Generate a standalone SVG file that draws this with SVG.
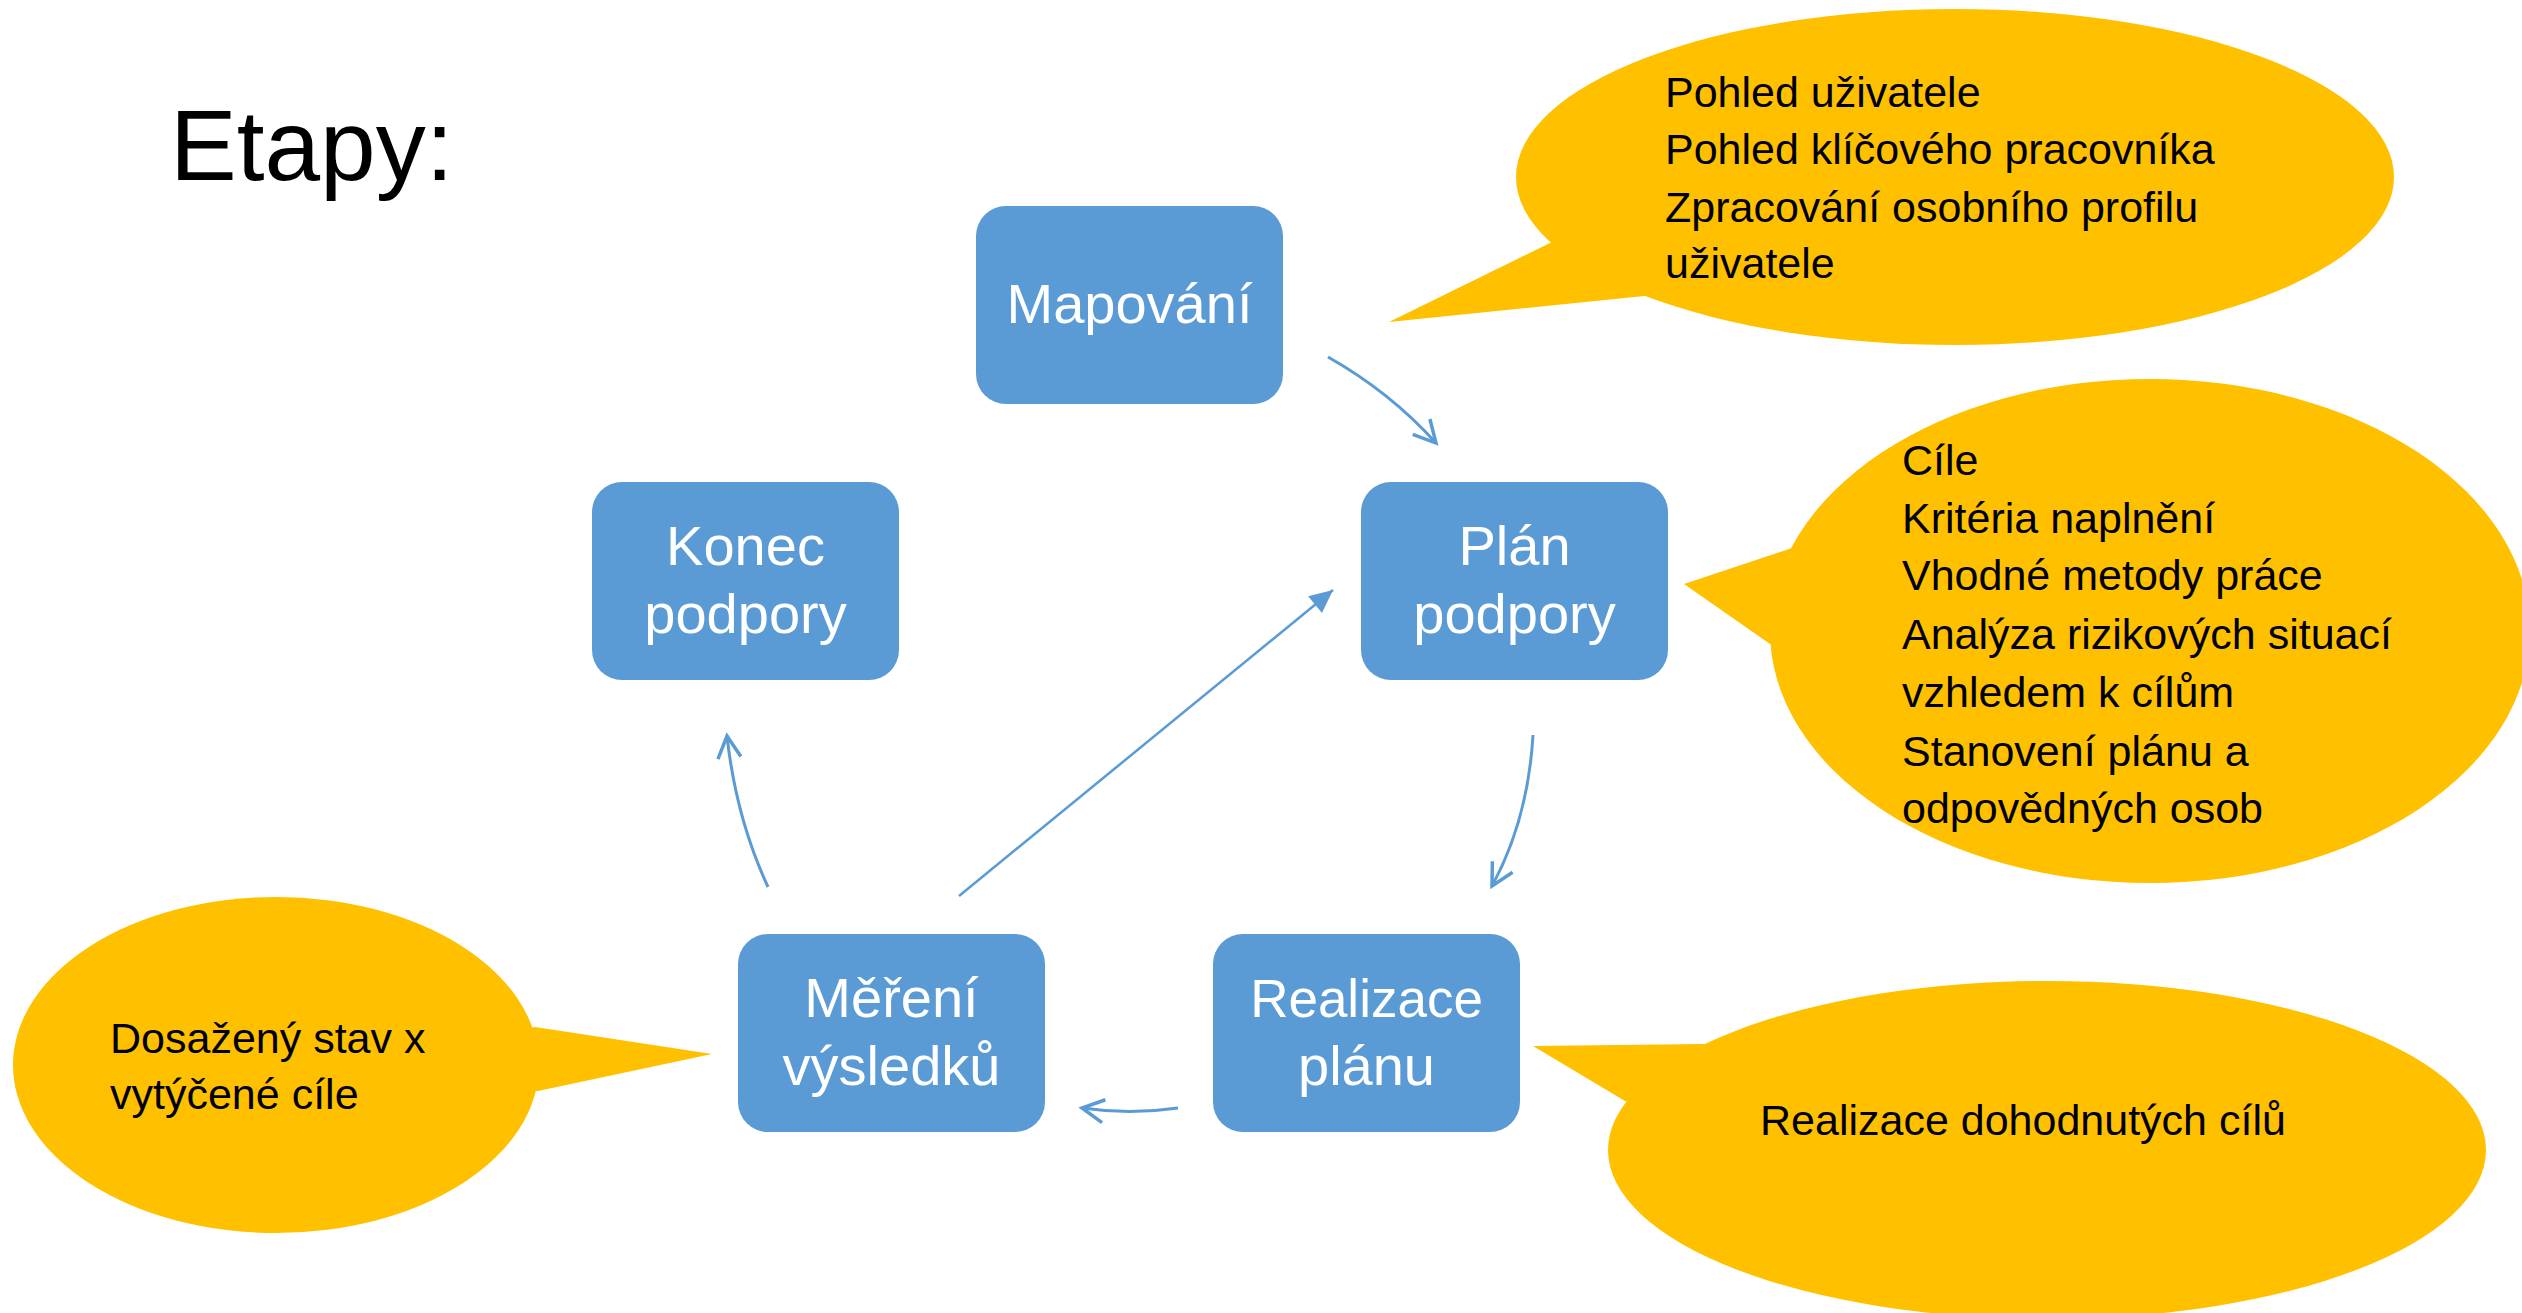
<svg xmlns="http://www.w3.org/2000/svg" width="2522" height="1313" viewBox="0 0 2522 1313">
<style>
.box{fill:#5B9BD5}
.bt{font-family:"Liberation Sans",Arial,sans-serif;font-size:56px;fill:#fff;text-anchor:middle}
.call{fill:#FFC000}
.ct{font-family:"Liberation Sans",Arial,sans-serif;font-size:43px;fill:#000}
.title{font-family:"Liberation Sans",Arial,sans-serif;font-size:100px;fill:#000}
.con{fill:none;stroke:#5B9BD5;stroke-width:3}
</style>
<defs>
<marker id="openArrow" markerUnits="userSpaceOnUse" markerWidth="30" markerHeight="30" viewBox="-22 -12 26 24" refX="0" refY="0" orient="auto">
<path d="M-19,-10 L0,0 L-19,10" fill="none" stroke="#5B9BD5" stroke-width="3"/>
</marker>
<marker id="fillArrow" markerUnits="userSpaceOnUse" markerWidth="30" markerHeight="30" viewBox="-20 -10 22 20" refX="0" refY="0" orient="auto">
<path d="M-17,-8 L0,0 L-17,8 Z" fill="#5B9BD5"/>
</marker>
</defs>
<rect width="2522" height="1313" fill="#fff"/>
<text class="title" x="170" y="180">Etapy:</text>

<g id="callout-mapovani">
<ellipse class="call" cx="1955" cy="177" rx="439" ry="168"/>
<polygon class="call" points="1389,322 1550,243 1955,177 1644,296"/>
<text class="ct" x="1665" y="107">Pohled uživatele</text>
<text class="ct" x="1665" y="164">Pohled klíčového pracovníka</text>
<text class="ct" x="1665" y="222">Zpracování osobního profilu</text>
<text class="ct" x="1665" y="278">uživatele</text>
</g>

<g id="callout-plan">
<ellipse class="call" cx="2150" cy="631" rx="380" ry="252"/>
<polygon class="call" points="1684,584 1792,548 2150,631 1770,644"/>
<text class="ct" x="1902" y="475">Cíle</text>
<text class="ct" x="1902" y="533">Kritéria naplnění</text>
<text class="ct" x="1902" y="590">Vhodné metody práce</text>
<text class="ct" x="1902" y="649">Analýza rizikových situací</text>
<text class="ct" x="1902" y="707">vzhledem k cílům</text>
<text class="ct" x="1902" y="766">Stanovení plánu a</text>
<text class="ct" x="1902" y="823">odpovědných osob</text>
</g>

<g id="callout-mereni">
<ellipse class="call" cx="276" cy="1065" rx="263" ry="168"/>
<polygon class="call" points="712,1054 535,1027 276,1065 538,1091"/>
<text class="ct" x="110" y="1053">Dosažený stav x</text>
<text class="ct" x="110" y="1109">vytýčené cíle</text>
</g>

<g id="callout-realizace">
<ellipse class="call" cx="2047" cy="1150" rx="439" ry="169"/>
<polygon class="call" points="1533,1046 1704,1044 2047,1150 1625,1101"/>
<text class="ct" x="1760" y="1135">Realizace dohodnutých cílů</text>
</g>

<g id="node-mapovani">
<rect class="box" x="976" y="206" width="307" height="198" rx="30"/>
<text class="bt" x="1129.5" y="323">Mapování</text>
</g>
<g id="node-konec">
<rect class="box" x="592" y="482" width="307" height="198" rx="30"/>
<text class="bt" x="745.5" y="565">Konec</text>
<text class="bt" x="745.5" y="633">podpory</text>
</g>
<g id="node-plan">
<rect class="box" x="1361" y="482" width="307" height="198" rx="30"/>
<text class="bt" x="1514.5" y="565">Plán</text>
<text class="bt" x="1514.5" y="633">podpory</text>
</g>
<g id="node-mereni">
<rect class="box" x="738" y="934" width="307" height="198" rx="30"/>
<text class="bt" x="891.5" y="1017">Měření</text>
<text class="bt" x="891.5" y="1085">výsledků</text>
</g>
<g id="node-realizace">
<rect class="box" x="1213" y="934" width="307" height="198" rx="30"/>
<text class="bt" x="1366.5" y="1017" style="font-size:53px">Realizace</text>
<text class="bt" x="1366.5" y="1085">plánu</text>
</g>

<g id="connectors">
<path class="con" d="M1328,357 Q1390,392 1436,443" marker-end="url(#openArrow)"/>
<path class="con" d="M1533,735 Q1528,820 1492,886" marker-end="url(#openArrow)"/>
<path class="con" d="M1178,1108 Q1130,1115 1082,1108" marker-end="url(#openArrow)"/>
<path class="con" d="M768,887 Q736,818 727,736" marker-end="url(#openArrow)"/>
<path class="con" style="stroke-width:2.5" d="M959,896 L1333,590" marker-end="url(#fillArrow)"/>
</g>
</svg>
